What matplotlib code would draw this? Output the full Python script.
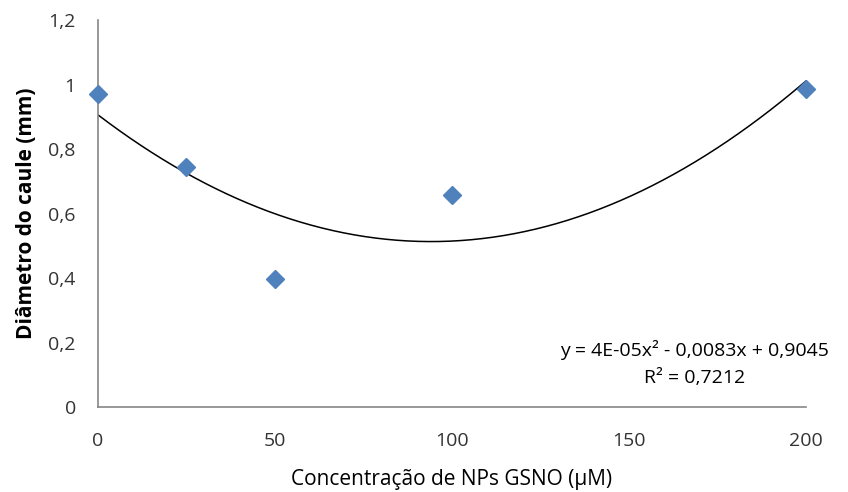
import numpy as np
import matplotlib.pyplot as plt

# data
concentracao = [0, 25, 50, 100, 200]
diametro = [0.97, 0.743, 0.398, 0.658, 0.987]
yTicks = [0, 0.2, 0.4, 0.6, 0.8, 1.0, 1.2]
yTickLabels = ["0", "0,2", "0,4", "0,6", "0,8", "1", "1,2"]
xTicks = [0, 50, 100, 150, 200]

plt.rcParams['font.family'] = ['Open Sans', 'DejaVu Sans']

fig = plt.figure(figsize=(8.48, 4.92), dpi=100)
ax = fig.add_axes([0.1156, 0.1728, 0.8344, 0.7862])

# polynomial trendline (order 2), fitted like Excel does
coef = np.polyfit(concentracao, diametro, 2)
xs = np.linspace(0, 200, 200)
ax.plot(xs, np.polyval(coef, xs), color="black", linewidth=1.1, zorder=2)

ax.plot(concentracao, diametro, linestyle="none", marker="D", markersize=9,
        color="#4F81BD", zorder=3, clip_on=False)

ax.set_xlim(0, 200)
ax.set_ylim(0, 1.2)
ax.set_xticks(xTicks)
ax.set_yticks(yTicks)
ax.set_yticklabels(yTickLabels)
ax.tick_params(length=0, labelsize=14, colors="#333333")
ax.tick_params(axis="y", pad=16)
ax.tick_params(axis="x", pad=18)

for side in ["top", "right"]:
    ax.spines[side].set_visible(False)
for side in ["left", "bottom"]:
    ax.spines[side].set_color("#868686")
    ax.spines[side].set_linewidth(1.2)

ax.set_xlabel("Concentração de NPs GSNO (µM)", fontsize=15, labelpad=14)
ax.set_ylabel("Diâmetro do caule (mm)", fontsize=15, weight="bold", labelpad=8)

ax.text(168.5, 0.177, "y = 4E-05x² - 0,0083x + 0,9045", ha="center", va="center", fontsize=14)
ax.text(168.5, 0.09, "R² = 0,7212", ha="center", va="center", fontsize=14)

plt.savefig("out.png", dpi=100)
